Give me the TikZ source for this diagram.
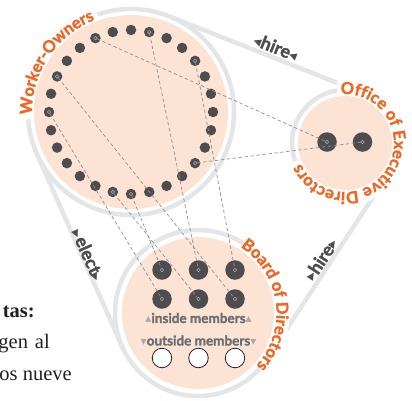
\documentclass[tikz,border=0pt]{standalone}
\usepackage{fontspec}
\setmainfont{Liberation Serif}
\newfontfamily\lato{Lato}[BoldFeatures={FakeBold=1.6}]
\newfontfamily\symfont{DejaVu Sans}
\usetikzlibrary{decorations.text}

\definecolor{ringgray}{HTML}{E4E5E6}
\definecolor{peach}{HTML}{FDE3D4}
\definecolor{dotgray}{HTML}{4D4D4F}
\definecolor{tone}{HTML}{F26522}
\definecolor{linkgray}{HTML}{8E9093}
\definecolor{memgray}{HTML}{6D6E71}
\definecolor{trigray}{HTML}{A7A9AC}
\definecolor{ink}{HTML}{231F20}

\newcommand\headfont{\lato\bfseries\fontsize{16.5}{16.5}\selectfont}
\newcommand\smalltri{\symfont\fontsize{12}{12}\selectfont}
\newcommand\belttri{\symfont\fontsize{15}{15}\selectfont}

\begin{document}
\begin{tikzpicture}[x=1pt,y=-1pt,
  ring/.style={draw=ringgray, line width=4.5pt},
  gapmask/.style={draw=white, line width=15pt},
  wdot/.style={circle, fill=dotgray, inner sep=0pt, minimum size=10.5pt},
  bdot/.style={circle, fill=dotgray, inner sep=0pt, minimum size=19.5pt},
  emptydot/.style={circle, draw=ink, fill=white, line width=0.8pt, inner sep=0pt, minimum size=19.5pt},
  link/.style={draw=linkgray, line width=0.7pt, dash pattern=on 3.5pt off 2.5pt,
    shorten <=1.8pt, shorten >=1.8pt},
  endmark/.style={draw=trigray, line width=0.6pt},
  beltlabel/.style={text=dotgray, font=\lato\bfseries\fontsize{18}{18}\selectfont, inner sep=0pt},
  memlabel/.style={text=memgray, font=\lato\bfseries\fontsize{13.5}{13.5}\selectfont, inner sep=0pt},
  bodytext/.style={text=ink, font=\fontsize{20.5}{20.5}\selectfont, inner sep=0pt, anchor=base east},
  curved/.style={decorate, decoration={text along path, text align=center,
    text={|\headfont\color{tone}|#1}}}
]
\useasboundingbox (0,0) rectangle (412,400);
\clip (0,0) rectangle (412,400);

% circle centres
\coordinate (W) at (131,112);
\coordinate (O) at (345,143);
\coordinate (B) at (198,313);

% tangent points of the outer belt
\coordinate (tw1) at (168.9,16.2);
\coordinate (to1) at (364.5,93.7);
\coordinate (to2) at (389.4,172.0);
\coordinate (tb2) at (267.5,358.4);
\coordinate (tb3) at (122.1,346.6);
\coordinate (tw3) at (36.8,153.7);

% rings and belt
\draw[ring] (W) circle (103);
\draw[ring] (O) circle (53);
\draw[ring] (B) circle (83);
\draw[ring] (tw1) -- (to1);
\draw[ring] (to2) -- (tb2);
\draw[ring] (tb3) -- (tw3);

% openings in the rings under the curved titles
\draw[gapmask] ([shift={(-184:106)}]W) arc[start angle=-184, end angle=-109, radius=106];
\draw[gapmask] ([shift={(-98:55)}]O) arc[start angle=-98, end angle=160, radius=55];
\draw[gapmask] ([shift={(-56:84)}]B) arc[start angle=-56, end angle=41, radius=84];

% discs
\fill[peach] (W) circle (97);
\fill[peach] (O) circle (47);
\fill[peach] (B) circle (76);

% worker-owners
\foreach \k in {0,...,27}
  \node[wdot] (w\k) at ([shift={(-\k*360/28:82)}]W) {};

% executive directors
\node[bdot] (o1) at (327,142) {};
\node[bdot] (o2) at (362.5,142) {};

% board members
\node[bdot] (b11) at (162,270) {};
\node[bdot] (b12) at (198.5,270) {};
\node[bdot] (b13) at (235,270) {};
\node[bdot] (b21) at (162,299) {};
\node[bdot] (b22) at (198.5,299) {};
\node[bdot] (b23) at (235,299) {};
\node[emptydot] (c1) at (162,358) {};
\node[emptydot] (c2) at (198.5,358) {};
\node[emptydot] (c3) at (235,358) {};

% representation links
\draw[link] (w3.center) -- (b13.center);
\draw[link] (w6.center) -- (b12.center);
\draw[link] (w9.center) -- (o1.center);
\draw[link] (w12.center) -- (b23.center);
\draw[link] (w14.center) -- (b21.center);
\draw[link] (w20.center) -- (b22.center);
\draw[link] (w21.center) -- (b11.center);
\draw[link] (w25.center) -- (o2.center);
\foreach \n in {w3,w6,w9,w12,w14,w20,w21,w25,o1,o2,b11,b12,b13,b21,b22,b23}
  \draw[endmark] (\n.center) circle (1.8pt);

% member captions
\node[memlabel] (inside) at (198.5,318) {{\color{trigray}\smalltri ▴}inside members{\color{trigray}\smalltri ▴}};
\node[memlabel] (outside) at (198.5,340.5) {{\color{trigray}\smalltri ▾}outside members{\color{trigray}\smalltri ▾}};

% belt labels
\node[beltlabel, rotate=-21.6] (hiretop) at (276,47) {{\belttri ◂}hire{\belttri ◂}};
\node[beltlabel, rotate=56.8] (hireright) at (321,259) {{\belttri ▸}hire{\belttri ▸}};
\node[beltlabel, rotate=-66.1] (elect) at (88.5,255) {{\belttri ▸}elect{\belttri ▸}};

% curved titles
\path[curved=Worker-Owners] ([shift={(-186.5:99)}]W) arc[start angle=-186.5, end angle=-106.5, radius=99];
\path[curved=Office of Executive Directors] ([shift={(-112:49)}]O) arc[start angle=-112, end angle=172, radius=49];
\path[curved=Board of Directors] ([shift={(-70:78.5)}]B) arc[start angle=-70, end angle=55, radius=78.5];

% running text at the left margin
\node[bodytext, font=\bfseries\fontsize{20.5}{20.5}\selectfont] (t1) at (35,317) {tas:};
\node[bodytext] (t2) at (50,348) {gen\hspace{7pt}al};
\node[bodytext] (t3) at (72,380) {os nueve};
\end{tikzpicture}
\end{document}
